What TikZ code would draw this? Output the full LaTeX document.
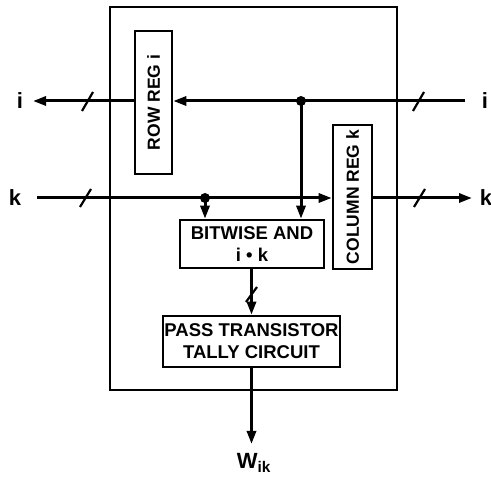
\documentclass[tikz,border=0pt]{standalone}
\usepackage{fontspec}
\setmainfont{Liberation Sans}
\usetikzlibrary{arrows.meta}
\begin{document}
\begin{tikzpicture}[x=1pt,y=-1pt,
  wire/.style={line width=3pt},
  arr/.style={wire,-{Triangle[length=13pt,width=9pt]}},
  blk/.style={draw,line width=2.6pt,inner sep=0pt,font=\fontsize{18.5}{22}\selectfont\bfseries,align=center},
  regtxt/.style={font=\fontsize{17.5}{21}\selectfont\bfseries,rotate=90,inner sep=0pt},
  lbl/.style={font=\fontsize{22}{24}\selectfont\bfseries,inner sep=0pt},
  tick/.style={line width=2.2pt},
  dotc/.style={circle,fill,inner sep=0pt,minimum size=10pt}]
\useasboundingbox (0,0) rectangle (491,478);
% outer box
\node[draw,line width=2pt,minimum width=287pt,minimum height=383pt,inner sep=0pt] (outer) at (253.5,198.5) {};
% blocks
\node[blk,minimum width=37pt,minimum height=143pt] (rowreg) at (153.5,102.5) {};
\node[regtxt] (rowtxt) at (rowreg.center) {ROW REG i};
\node[blk,minimum width=39pt,minimum height=144pt] (colreg) at (352.5,197) {};
\node[regtxt] (coltxt) at (colreg.center) {COLUMN REG k};
\node[blk,minimum width=144pt,minimum height=48pt] (bitand) at (252,244) {BITWISE AND\\i • k};
\node[blk,minimum width=177pt,minimum height=51pt] (pass) at (251.5,341.5) {PASS TRANSISTOR\\TALLY CIRCUIT};
% coordinates
\coordinate (iR) at (465,101);
\coordinate (iL) at (33,101);
\coordinate (kL) at (37,198);
\coordinate (kR) at (472,198);
\coordinate (wEnd) at (252,444);
% labels
\node[lbl] (ilabL) at (20,101) {i};
\node[lbl] (ilabR) at (485,101) {i};
\node[lbl] (klabL) at (15,198) {k};
\node[lbl] (klabR) at (486,198) {k};
\node[lbl] (wlab) at (254,463) {W$_{\mathbf{ik}}$};
% dots
\node[dotc] (d1) at (301,101) {};
\node[dotc] (d2) at (205,198) {};
% i bus
\draw[arr] (iR) -- (rowreg.east |- iR);
\draw[arr] (rowreg.west |- iL) -- (iL);
\draw[arr] (d1.center) -- (d1.center |- bitand.north);
% k bus
\draw[arr] (kL) -- (colreg.west |- kL);
\draw[arr] (d2.center) -- (d2.center |- bitand.north);
\draw[arr] (colreg.east |- kR) -- (kR);
% and -> tally -> out
\draw[arr] (bitand.south -| pass.north) -- (pass.north);
\draw[arr] (pass.south) -- (pass.south |- wEnd);
% ticks
\draw[tick] (82,111) -- (93,92);
\draw[tick] (80,207) -- (91,189);
\draw[tick] (413,111) -- (424,92);
\draw[tick] (414,207) -- (425,189);
\draw[tick] (246,302) -- (257,287);
\end{tikzpicture}
\end{document}
